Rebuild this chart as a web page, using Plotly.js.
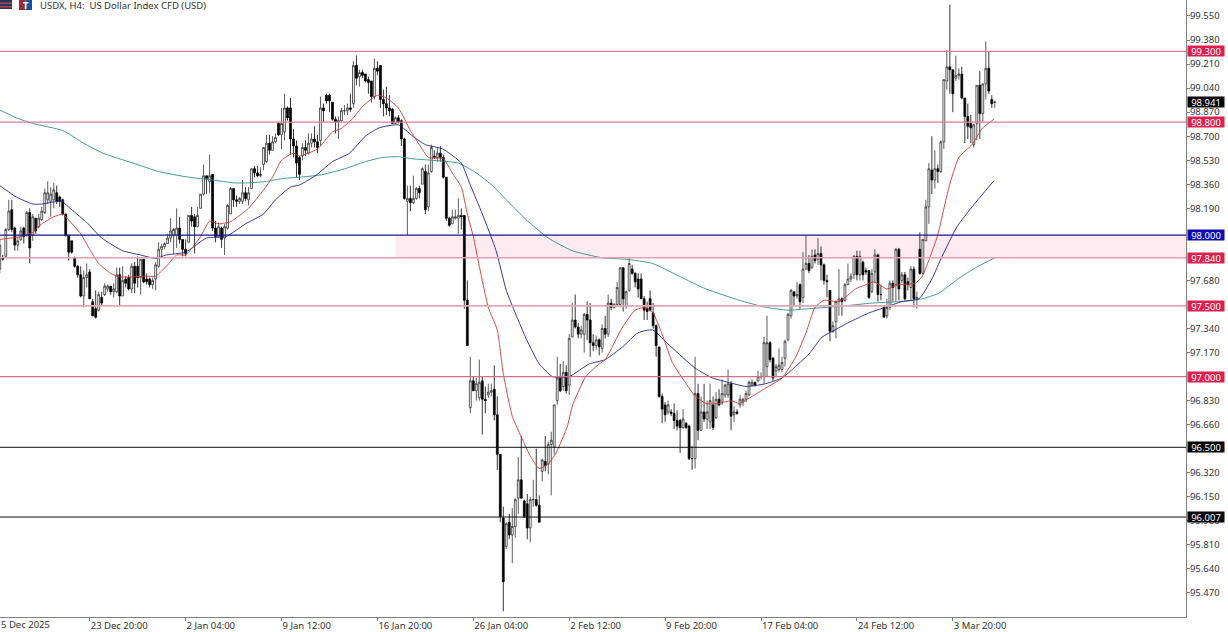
<!DOCTYPE html>
<html><head><meta charset="utf-8">
<script src="https://cdn.plot.ly/plotly-3.0.1.min.js"></script>
<style>html,body{margin:0;padding:0;background:#fff;overflow:hidden}#c{width:1228px;height:632px}</style>
</head><body><div id="c"></div>
<script>
// Each row: open, high, low, close (bar index = position in the joined list)
const barsA = [[97.76,97.97,97.73,97.93],[97.84,97.86,97.82,97.83],[97.85,98.05,97.85,98.04],[98.04,98.25,98.03,98.17],[98.18,98.25,98.02,98.04],[98.05,98.06,97.89,97.93],[97.93,97.99,97.89,97.96],[97.97,98.06,97.96,98.03],[98.05,98.06,97.94,97.99],[98.0,98.17,97.99,98.16],
[98.16,98.19,97.80,97.91],[98.0,98.15,97.96,98.13],[98.12,98.12,98.01,98.03],[98.06,98.15,98.05,98.12],[98.11,98.2,98.1,98.17],[98.16,98.33,98.15,98.3],[98.25,98.38,98.22,98.3],[98.24,98.34,98.13,98.29],[98.25,98.37,98.19,98.32],[98.3,98.35,98.22,98.24],
[98.27,98.28,98.2,98.24],[98.25,98.26,98.14,98.15],[98.15,98.15,97.99,98.0],[98.0,98.0,97.82,97.88],[97.96,97.96,97.87,97.88],[97.84,97.85,97.77,97.78],[97.78,97.79,97.7,97.72],[97.72,97.78,97.56,97.57],[97.57,97.75,97.49,97.7],[97.7,97.8,97.63,97.72],
[97.74,97.76,97.55,97.55],[97.53,97.55,97.43,97.43],[97.48,97.61,97.41,97.42],[97.47,97.6,97.46,97.58],[97.56,97.6,97.5,97.52],[97.58,97.66,97.57,97.64],[97.62,97.65,97.6,97.64],[97.64,97.64,97.58,97.6],[97.6,97.66,97.56,97.62],[97.6,97.77,97.59,97.72],
[97.72,97.77,97.5,97.57],[97.57,97.78,97.57,97.68],[97.69,97.71,97.63,97.66],[97.7,97.72,97.61,97.62],[97.62,97.8,97.59,97.78],[97.78,97.81,97.59,97.66],[97.78,97.85,97.63,97.7],[97.7,97.83,97.58,97.83],[97.83,97.83,97.66,97.67],[97.69,97.73,97.65,97.67]];
const barsB = [[97.69,97.7,97.63,97.65],[97.65,97.7,97.62,97.68],[97.69,97.81,97.61,97.79],[97.78,97.95,97.77,97.9],[97.9,97.94,97.84,97.92],[97.92,97.95,97.9,97.94],[97.94,98.01,97.94,97.98],[97.98,98.12,97.95,98.03],[98.0,98.05,97.87,98.04],[98.0,98.19,97.91,98.05],
[98.05,98.13,97.94,97.97],[97.97,97.97,97.85,97.9],[97.9,97.97,97.85,97.87],[97.95,98.14,97.95,98.14],[98.14,98.2,98.06,98.1],[98.13,98.15,97.87,98.06],[98.06,98.2,98.06,98.14],[98.19,98.29,98.19,98.29],[98.29,98.5,98.28,98.42],[98.42,98.42,98.29,98.4],
[98.38,98.57,98.3,98.42],[98.43,98.43,98.03,98.05],[98.05,98.1,97.95,97.99],[97.99,98.09,97.99,98.06],[98.05,98.06,97.91,97.97],[97.98,98.08,97.86,98.06],[98.05,98.22,98.04,98.21],[98.15,98.34,98.15,98.33],[98.33,98.33,98.2,98.25],[98.25,98.28,98.2,98.24],
[98.24,98.27,98.22,98.26],[98.24,98.39,98.22,98.3],[98.3,98.34,98.24,98.26],[98.25,98.34,98.21,98.3],[98.33,98.47,98.33,98.47],[98.47,98.49,98.41,98.44],[98.44,98.49,98.41,98.42],[98.42,98.48,98.41,98.43],[98.5,98.62,98.46,98.62],[98.52,98.71,98.51,98.65],
[98.65,98.71,98.57,98.6],[98.6,98.7,98.6,98.66],[98.66,98.72,98.65,98.69],[98.79,98.8,98.7,98.71],[98.71,98.9,98.61,98.79],[98.73,99.0,98.67,98.9],[98.9,98.91,98.81,98.83],[98.9,98.97,98.57,98.68],[98.68,98.75,98.55,98.63],[98.63,98.67,98.41,98.51]];
const barsC = [[98.55,98.56,98.39,98.43],[98.56,98.65,98.53,98.62],[98.62,98.67,98.56,98.6],[98.58,98.72,98.57,98.65],[98.65,98.72,98.62,98.68],[98.68,98.77,98.62,98.66],[98.66,98.71,98.58,98.62],[98.67,98.98,98.63,98.9],[98.9,98.93,98.8,98.88],[98.99,99.0,98.93,98.95],
[98.99,99.0,98.87,98.95],[98.94,98.94,98.81,98.82],[98.82,98.84,98.72,98.8],[98.8,98.84,98.68,98.81],[98.81,98.9,98.8,98.88],[98.88,98.92,98.85,98.88],[98.88,98.93,98.85,98.9],[98.9,99.0,98.87,98.89],[98.93,99.23,98.9,99.2],[99.2,99.27,99.06,99.11],
[99.12,99.17,99.05,99.15],[99.15,99.17,99.11,99.13],[99.14,99.14,99.08,99.09],[99.1,99.12,99.0,99.08],[99.09,99.09,98.94,98.98],[98.98,99.25,98.96,99.18],[99.18,99.23,99.13,99.16],[99.2,99.2,98.9,98.96],[98.96,99.03,98.84,98.93],[98.93,99.05,98.85,98.9],
[98.9,98.99,98.84,98.88],[98.89,98.9,98.79,98.79],[98.79,98.84,98.79,98.83],[98.83,98.85,98.79,98.8],[98.81,98.82,98.63,98.68],[98.68,98.69,98.25,98.26],[98.24,98.35,98.0,98.26],[98.26,98.35,98.17,98.23],[98.23,98.42,98.22,98.26],[98.26,98.34,98.25,98.33],
[98.33,98.35,98.26,98.3],[98.36,98.48,98.36,98.47],[98.45,98.5,98.15,98.18],[98.2,98.5,98.17,98.44],[98.45,98.64,98.44,98.62],[98.56,98.6,98.54,98.55],[98.55,98.62,98.52,98.58],[98.58,98.63,98.52,98.55],[98.55,98.57,98.4,98.41],[98.41,98.41,98.1,98.12]];
const barsD = [[98.12,98.13,98.06,98.07],[98.08,98.18,98.08,98.13],[98.12,98.18,98.11,98.13],[98.12,98.26,98.01,98.14],[98.14,98.19,98.04,98.13],[98.14,98.14,97.48,97.54],[97.54,97.68,97.22,97.22],[96.78,97.14,96.74,96.97],[96.97,97.0,96.9,96.9],[96.9,96.99,96.83,96.95],
[96.85,97.12,96.83,96.96],[96.97,97.0,96.59,96.84],[96.84,96.93,96.74,96.83],[96.87,96.95,96.85,96.89],[96.89,96.95,96.86,96.9],[96.91,97.08,96.69,96.73],[96.73,96.86,96.34,96.45],[96.45,96.45,95.97,96.01],[96.0,96.08,95.34,95.55],[95.8,95.97,95.78,95.96],
[95.97,96.03,95.85,95.88],[95.88,96.07,95.68,95.94],[95.94,96.14,95.86,96.13],[96.14,96.43,96.03,96.27],[96.27,96.58,96.14,96.14],[96.12,96.13,96.0,96.01],[96.1,96.17,95.85,95.93],[95.93,96.15,95.83,96.13],[96.13,96.27,96.08,96.13],[96.13,96.49,96.08,96.09],
[96.09,96.16,95.97,95.97],[96.33,96.42,96.26,96.41],[96.4,96.58,96.33,96.37],[96.38,96.54,96.31,96.52],[96.52,96.61,96.16,96.55],[96.5,96.8,96.45,96.8],[96.83,97.14,96.8,96.99],[96.99,97.09,96.89,96.9],[96.93,97.11,96.9,97.03],[97.03,97.08,96.88,96.9],
[96.94,97.3,96.87,97.27],[97.28,97.52,97.28,97.4],[97.4,97.58,97.34,97.35],[97.35,97.38,97.27,97.3],[97.3,97.36,97.27,97.33],[97.3,97.45,97.17,97.44],[97.44,97.53,97.26,97.4],[97.4,97.52,97.14,97.24],[97.24,97.3,97.18,97.22],[97.22,97.29,97.19,97.26]];
const barsE = [[97.26,97.27,97.15,97.21],[97.2,97.37,97.17,97.34],[97.34,97.43,97.27,97.3],[97.3,97.58,97.28,97.52],[97.52,97.55,97.47,97.49],[97.49,97.52,97.48,97.51],[97.51,97.67,97.5,97.63],[97.51,97.77,97.49,97.77],[97.77,97.77,97.46,97.55],[97.5,97.61,97.48,97.6],
[97.61,97.84,97.6,97.8],[97.76,97.79,97.72,97.73],[97.73,97.74,97.63,97.67],[97.69,97.73,97.56,97.62],[97.69,97.73,97.55,97.55],[97.55,97.57,97.4,97.47],[97.48,97.53,97.4,97.46],[97.55,97.61,97.46,97.47],[97.45,97.52,97.34,97.36],[97.36,97.37,97.14,97.22],
[97.21,97.21,96.85,96.86],[96.86,96.88,96.67,96.77],[96.8,96.82,96.68,96.73],[96.75,96.83,96.73,96.8],[96.75,96.77,96.72,96.74],[96.74,96.81,96.63,96.69],[96.69,96.76,96.62,96.65],[96.69,96.7,96.46,96.64],[96.64,96.77,96.63,96.7],[96.67,96.68,96.63,96.64],
[96.65,96.66,96.41,96.42],[96.42,96.51,96.34,96.42],[96.42,97.14,96.35,96.88],[96.88,96.95,96.55,96.62],[96.62,96.86,96.62,96.75],[96.75,96.95,96.68,96.7],[96.7,96.83,96.63,96.75],[96.68,96.95,96.63,96.83],[96.8,96.86,96.62,96.64],[96.71,96.89,96.7,96.84],
[96.84,96.91,96.79,96.8],[96.82,96.98,96.8,96.88],[96.87,96.95,96.85,96.94],[96.87,97.05,96.85,96.95],[96.95,96.97,96.62,96.72],[96.73,96.79,96.68,96.75],[96.75,96.77,96.73,96.74],[96.8,96.87,96.78,96.84],[96.82,96.85,96.79,96.84],[96.84,96.9,96.82,96.88]];
const barsF = [[96.87,96.97,96.86,96.96],[96.94,96.98,96.93,96.96],[96.96,96.96,96.93,96.94],[96.97,97.04,96.96,97.0],[97.0,97.03,96.98,97.0],[97.0,97.28,96.95,97.24],[97.07,97.43,97.0,97.24],[97.24,97.25,97.1,97.12],[97.13,97.14,96.97,96.99],[97.04,97.09,97.0,97.07],
[97.05,97.2,97.03,97.08],[97.05,97.14,97.03,97.1],[97.13,97.26,97.07,97.25],[97.26,97.45,97.25,97.44],[97.43,97.62,97.41,97.61],[97.6,97.6,97.5,97.57],[97.57,97.67,97.55,97.58],[97.65,97.66,97.48,97.53],[97.56,97.88,97.52,97.76],[97.76,98.0,97.76,97.8],
[97.8,97.86,97.73,97.75],[97.77,97.9,97.76,97.85],[97.86,97.9,97.8,97.82],[97.83,97.98,97.79,97.87],[97.87,97.92,97.68,97.79],[97.79,97.8,97.65,97.68],[97.68,97.72,97.56,97.67],[97.61,97.61,97.25,97.32],[97.32,97.39,97.31,97.36],[97.39,97.54,97.27,97.53],
[97.53,97.76,97.43,97.55],[97.55,97.56,97.43,97.53],[97.54,97.66,97.53,97.65],[97.65,97.8,97.65,97.69],[97.69,97.73,97.67,97.71],[97.72,97.86,97.69,97.85],[97.85,97.89,97.68,97.72],[97.72,97.89,97.68,97.85],[97.81,97.82,97.68,97.72],[97.75,97.77,97.72,97.74],
[97.75,97.75,97.55,97.56],[97.6,97.76,97.59,97.73],[97.74,97.9,97.66,97.86],[97.86,97.87,97.53,97.58],[97.58,97.65,97.54,97.58],[97.49,97.5,97.42,97.42],[97.43,97.55,97.41,97.49],[97.49,97.68,97.47,97.66],[97.66,97.68,97.53,97.63],[97.65,97.91,97.53,97.9]];
const barsG = [[97.9,97.91,97.54,97.62],[97.68,97.74,97.66,97.72],[97.72,97.74,97.54,97.55],[97.67,97.7,97.61,97.65],[97.63,97.78,97.54,97.76],[97.76,97.78,97.49,97.55],[97.55,97.6,97.48,97.56],[97.9,98.02,97.72,97.73],[97.73,97.97,97.72,97.97],[97.96,98.25,97.96,98.2],
[98.2,98.51,98.08,98.47],[98.46,98.7,98.29,98.39],[98.39,98.6,98.33,98.47],[98.47,98.5,98.37,98.45],[98.45,98.67,98.44,98.66],[98.66,99.1,98.61,99.1],[99.09,99.31,99.03,99.19],[99.19,99.63,99.0,99.17],[99.17,99.17,98.87,99.0],[99.11,99.27,99.09,99.13],
[99.13,99.18,99.1,99.14],[99.14,99.19,98.96,98.97],[98.97,98.97,98.65,98.84],[98.84,98.93,98.68,98.77],[98.79,98.85,98.65,98.76],[98.64,98.79,98.62,98.78],[98.79,99.06,98.67,99.06],[99.06,99.16,98.68,98.86],[98.86,99.07,98.8,99.07],[99.07,99.37,98.96,99.18],
[99.18,99.3,99.0,99.02],[98.96,98.99,98.9,98.93],[98.94,98.95,98.9,98.941]];

// Moving averages: bar index and price
const maFastBar = [0,7,11,14,18,21,22,27,30,33,37,40,44,49,52,56,59,62,64,67,70,73,77,80,83,88,91,94,98,100,106,111,114,118,121,126,129,133,137,140,143,148,151,154,156,158,160,163,166,168,171,174.5,176.7,180,183.3,185.6,189.4,191,195.5,200,202,207.8,212,215.6,218,221,224.4,229,231.7,235.6,240,244,246.7,251,255.6,261,265.6,269,272,275,280,285.5,289,291.7,296,300,305.5,307.8,312.8,316.7,320,324.4,327.8,331.7];
const maFastVal = [97.97,97.99,98.02,98.08,98.13,98.15,98.13,98.01,97.9,97.8,97.73,97.705,97.705,97.71,97.71,97.79,97.86,97.86,97.905,97.99,98.1,98.08,98.095,98.14,98.19,98.32,98.41,98.53,98.58,98.56,98.61,98.73,98.755,98.83,98.91,98.99,98.97,98.9,98.74,98.64,98.55,98.54,98.44,98.34,98.15,97.99,97.78,97.49,97.33,97.02,96.72,96.55,96.45,96.35,96.39,96.46,96.65,96.79,97.0,97.09,97.12,97.35,97.47,97.49,97.45,97.3,97.1,96.95,96.87,96.81,96.81,96.83,96.81,96.86,96.92,96.99,97.14,97.31,97.49,97.54,97.53,97.62,97.65,97.67,97.62,97.65,97.66,97.71,97.99,98.34,98.55,98.64,98.755,98.82];
const maMidBar = [0,5.5,11,14,20.5,24,29,34,41,47,52,55.5,62,69,75.5,82,88,92,97,100,105.6,111,116.7,122,126.7,133,137.8,142,147.8,154,156.7,161,165.6,169,172,175.8,180,184.4,190,196.7,202,207.8,213,217.8,224,232,237.8,243,249,255.6,261,264.4,270,274.4,277.8,283,290,295.5,301,306.7,311,314.4,319.4,324.4,331.7];
const maMidVal = [98.35,98.27,98.22,98.22,98.24,98.18,98.09,97.98,97.89,97.86,97.835,97.86,97.88,97.98,97.99,98.08,98.15,98.25,98.34,98.355,98.425,98.52,98.58,98.7,98.76,98.78,98.7,98.64,98.61,98.51,98.37,98.15,97.89,97.61,97.45,97.26,97.09,97.0,97.0,97.09,97.12,97.21,97.31,97.33,97.21,97.06,96.99,96.96,96.93,96.95,96.99,97.05,97.16,97.28,97.32,97.38,97.45,97.49,97.53,97.55,97.69,97.85,98.06,98.2,98.385];
const maSlowBar = [0,5.5,11,21,28,34.4,44.4,53,63,71,78,83,89,94,100,106.7,114.4,122,127.8,133,137.8,144,153,159,164.4,169,175.6,183,191,201,209,217.8,226.7,235.6,246.7,255.6,263,270,282,291,300,307.8,313.3,320,325.6,332];
const maSlowVal = [98.885,98.83,98.79,98.74,98.65,98.58,98.51,98.45,98.41,98.39,98.37,98.37,98.38,98.4,98.41,98.425,98.465,98.52,98.55,98.555,98.54,98.53,98.51,98.44,98.35,98.25,98.11,97.98,97.89,97.84,97.83,97.8,97.71,97.62,97.54,97.49,97.47,97.48,97.5,97.52,97.53,97.55,97.59,97.695,97.77,97.84];

const levelPrices = [99.3,98.8,98.0,97.84,97.5,97.0,96.5,96.007];
const levelLabels = ['99.300','98.800','98.000','97.840','97.500','97.000','96.500','96.007'];
const levelColors = ['#e27f98','#e27f98','#14148c','#e2a0b2','#dfa8b6','#cf6f8c','#111111','#111111'];
const levelWidths = [1.2,1.2,1.2,1.6,1.6,1.2,1,1];
const tagColors = ['#dc1f4d','#dc1f4d','#0b0bb0','#dc1f4d','#dc1f4d','#dc1f4d','#000000','#000000'];
const lastPrice = 98.941;
const zoneTop = 98.0, zoneBottom = 97.84, zoneStartBar = 132;

const priceTicks = [99.55,99.38,99.21,99.04,98.87,98.70,98.53,98.36,98.19,97.68,97.34,97.17,96.83,96.66,96.32,96.15,95.98,95.81,95.64,95.47];
const dateTickBars = [30,62,94,126,158,190,222,254,286,318];
const dateTickLabels = ['23 Dec 20:00','2 Jan 04:00','9 Jan 12:00','16 Jan 20:00','26 Jan 04:00','2 Feb 12:00','9 Feb 20:00','17 Feb 04:00','24 Feb 12:00','3 Mar 20:00'];
const titleText = 'USDX, H4:  US Dollar Index CFD (USD)';
const firstDateLabel = '5 Dec 2025';

const bars = [...barsA,...barsB,...barsC,...barsD,...barsE,...barsF,...barsG];
const idx = bars.map((_,i)=>i);
const FONT = '"Noto Sans", sans-serif';
const INK = '#333333';
const SMOOTH = {shape:'spline',smoothing:0.5,width:0.9};

const traces = [
 {type:'candlestick',x:idx,open:bars.map(b=>b[0]),high:bars.map(b=>b[1]),low:bars.map(b=>b[2]),close:bars.map(b=>b[3]),
  increasing:{line:{color:'#333333',width:0.8},fillcolor:'#ffffff'},
  decreasing:{line:{color:'#000000',width:0.8},fillcolor:'#000000'},
  whiskerwidth:0,hoverinfo:'skip',showlegend:false},
 {type:'scatter',mode:'lines',x:maSlowBar,y:maSlowVal,line:{...SMOOTH,color:'#2f8f8a'},hoverinfo:'skip',showlegend:false},
 {type:'scatter',mode:'lines',x:maMidBar,y:maMidVal,line:{...SMOOTH,color:'#23238f'},hoverinfo:'skip',showlegend:false},
 {type:'scatter',mode:'lines',x:maFastBar,y:maFastVal,line:{...SMOOTH,color:'#cc3a33'},hoverinfo:'skip',showlegend:false}
];

const PW = 1186, PH = 617;
const px = v => v/PW, py = v => 1 - v/PH;
function box(x0,y0,x1,y1,c){return {type:'rect',xref:'paper',yref:'paper',x0:px(x0),x1:px(x1),y0:py(y0),y1:py(y1),fillcolor:c,line:{width:0},layer:'above'};}

const shapes = [
 {type:'rect',xref:'x',yref:'y',x0:zoneStartBar,x1:395.8,y0:zoneBottom,y1:zoneTop,fillcolor:'#fdebf1',line:{width:0},layer:'below'},
 ...levelPrices.map((p,i)=>({type:'line',xref:'paper',yref:'y',x0:0,x1:1,y0:p,y1:p,line:{color:levelColors[i],width:levelWidths[i]},layer:'above'})),
 box(0,0,12,9,'#26375f'),box(0,2.5,12,4,'#b8404a'),box(0,6,12,7.5,'#b8404a'),
 box(19,0,25.5,10,'#9c2a30'),box(25.5,0,32,10,'#1f4f9a'),box(23,2,28.5,3.5,'#ffffff'),box(24.8,3,26.5,9,'#ffffff')
];

const TAG_H = 10;
const annotations = [
 ...levelPrices.map((p,i)=>({xref:'paper',yref:'y',x:px(1187),y:p,xanchor:'left',yanchor:'middle',text:levelLabels[i],showarrow:false,
   bgcolor:tagColors[i],width:36,height:TAG_H,borderpad:0,align:'center',font:{family:FONT,size:9.5,color:'#ffffff'}})),
 {xref:'paper',yref:'y',x:px(1187),y:lastPrice,xanchor:'left',yanchor:'middle',text:'98.941',showarrow:false,bgcolor:'#000000',width:36,height:TAG_H,borderpad:0,font:{family:FONT,size:9.5,color:'#ffffff'}},
 {xref:'paper',yref:'paper',x:px(38),y:py(5.5),xanchor:'left',yanchor:'middle',text:titleText,showarrow:false,font:{family:FONT,size:9.5,color:INK}},
 {xref:'paper',yref:'paper',x:px(0),y:py(624.5),xanchor:'left',yanchor:'middle',text:firstDateLabel,showarrow:false,borderpad:0,font:{family:FONT,size:9.5,color:INK}}
];

const layout = {
 width:1228,height:632,margin:{l:0,r:42,t:0,b:15},paper_bgcolor:'#ffffff',plot_bgcolor:'#ffffff',showlegend:false,hovermode:false,boxgap:0.12,
 xaxis:{type:'linear',range:[0.07,395.8],rangeslider:{visible:false},showgrid:false,zeroline:false,showline:true,linecolor:'#808080',linewidth:1,
   tickmode:'array',tickvals:dateTickBars,ticktext:dateTickLabels,ticks:'outside',ticklen:3,tickcolor:'#808080',tickwidth:1,ticklabelposition:'outside right',
   tickangle:0,tickfont:{family:FONT,size:9.5,color:INK}},
 yaxis:{side:'right',range:[95.30,99.663],showgrid:false,zeroline:false,showline:true,linecolor:'#808080',linewidth:1,
   tickmode:'array',tickvals:priceTicks,ticktext:priceTicks.map(v=>v.toFixed(3)),ticks:'outside',ticklen:3,tickcolor:'#808080',tickwidth:1,ticklabelstandoff:-2,
   tickfont:{family:FONT,size:9.5,color:INK}},
 shapes,annotations
};
Plotly.newPlot('c',traces,layout,{staticPlot:true,displayModeBar:false});
</script></body></html>
